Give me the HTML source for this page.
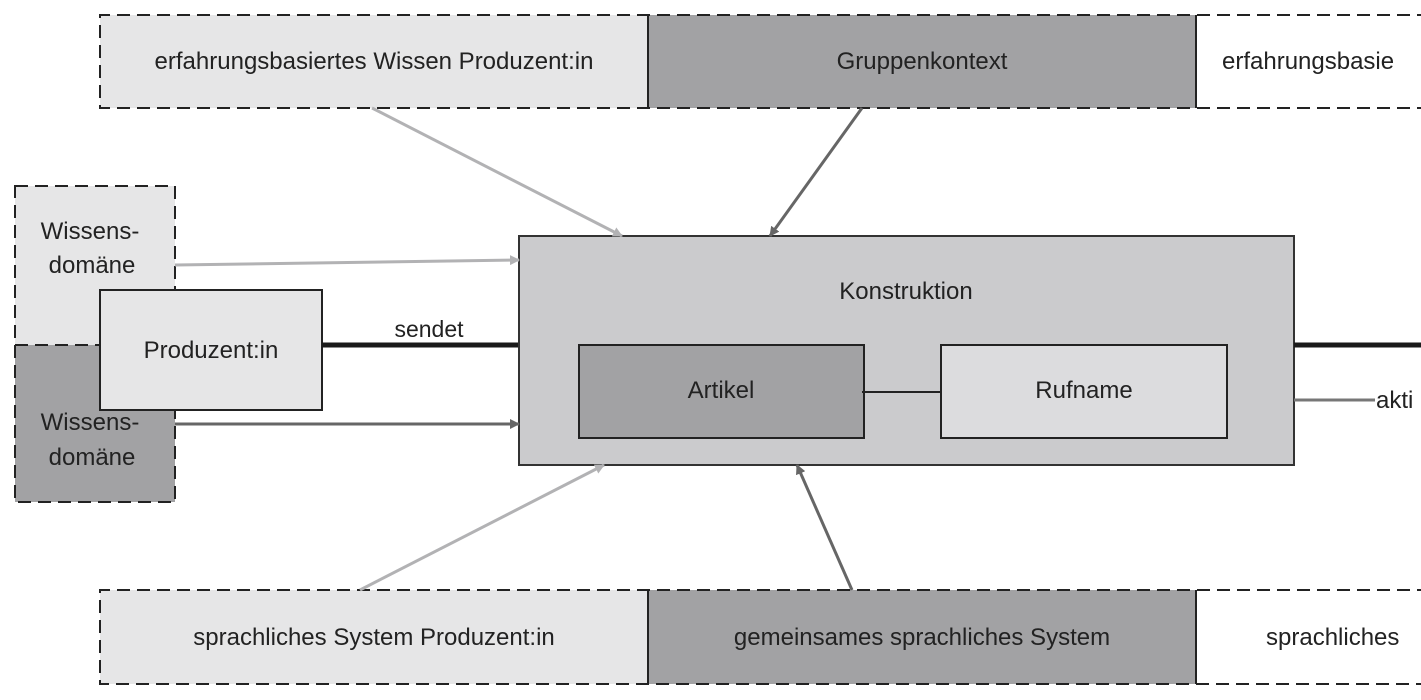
<!DOCTYPE html>
<html><head><meta charset="utf-8"><style>
html,body{margin:0;padding:0;background:#fff;}
svg{display:block;}
text{font-family:"Liberation Sans",sans-serif;fill:#222;}
</style></head><body>
<svg width="1421" height="700" viewBox="0 0 1421 700" xmlns="http://www.w3.org/2000/svg">
<defs>
<marker id="al" markerWidth="10" markerHeight="10" refX="9" refY="5" orient="auto" markerUnits="userSpaceOnUse" viewBox="0 0 10 10"><path d="M0,0 L10,5 L0,10 z" fill="#b2b2b4"/></marker>
<marker id="ad" markerWidth="10" markerHeight="10" refX="9" refY="5" orient="auto" markerUnits="userSpaceOnUse" viewBox="0 0 10 10"><path d="M0,0 L10,5 L0,10 z" fill="#666"/></marker>
</defs>
<!-- top band -->
<rect x="100" y="15" width="548" height="93" fill="#e6e6e7"/>
<rect x="648" y="15" width="548" height="93" fill="#a2a2a4"/>
<line x1="648" y1="15" x2="648" y2="108" stroke="#222" stroke-width="2"/>
<line x1="1196" y1="15" x2="1196" y2="108" stroke="#222" stroke-width="2"/>
<path d="M1430,15 H100 V108 H1430" fill="none" stroke="#222" stroke-width="2" stroke-dasharray="13,7"/>
<text x="374" y="69" font-size="24" text-anchor="middle">erfahrungsbasiertes Wissen Produzent:in</text>
<text x="922" y="69" font-size="24" text-anchor="middle">Gruppenkontext</text>
<text x="1222" y="69" font-size="24">erfahrungsbasie</text>
<!-- bottom band -->
<rect x="100" y="590" width="548" height="94" fill="#e6e6e7"/>
<rect x="648" y="590" width="548" height="94" fill="#a2a2a4"/>
<line x1="648" y1="590" x2="648" y2="684" stroke="#222" stroke-width="2"/>
<line x1="1196" y1="590" x2="1196" y2="684" stroke="#222" stroke-width="2"/>
<path d="M1430,590 H100 V684 H1430" fill="none" stroke="#222" stroke-width="2" stroke-dasharray="13,7"/>
<text x="374" y="645" font-size="24" text-anchor="middle">sprachliches System Produzent:in</text>
<text x="922" y="645" font-size="24" text-anchor="middle">gemeinsames sprachliches System</text>
<text x="1266" y="645" font-size="24">sprachliches</text>
<!-- left domains -->
<rect x="15" y="186" width="160" height="159" fill="#e6e6e7"/>
<rect x="15" y="345" width="160" height="157" fill="#a2a2a4"/>
<rect x="15" y="186" width="160" height="316" fill="none" stroke="#222" stroke-width="2" stroke-dasharray="13,7"/>
<line x1="15" y1="345" x2="175" y2="345" stroke="#222" stroke-width="2" stroke-dasharray="13,7"/>
<text x="90" y="239" font-size="24" text-anchor="middle">Wissens-</text>
<text x="92" y="273" font-size="24" text-anchor="middle">domäne</text>
<text x="90" y="430" font-size="24" text-anchor="middle">Wissens-</text>
<text x="92" y="465" font-size="24" text-anchor="middle">domäne</text>
<rect x="100" y="290" width="222" height="120" fill="#e6e6e7" stroke="#222" stroke-width="2"/>
<text x="211" y="358" font-size="24" text-anchor="middle">Produzent:in</text>
<!-- sendet -->
<line x1="322" y1="345" x2="519" y2="345" stroke="#1a1a1a" stroke-width="5"/>
<text x="429" y="337" font-size="23" text-anchor="middle">sendet</text>
<!-- Konstruktion -->
<rect x="519" y="236" width="775" height="229" fill="#cbcbcd" stroke="#333" stroke-width="2"/>
<text x="906" y="299" font-size="24" text-anchor="middle">Konstruktion</text>
<rect x="579" y="345" width="285" height="93" fill="#a2a2a4" stroke="#222" stroke-width="2"/>
<text x="721" y="398" font-size="24" text-anchor="middle">Artikel</text>
<rect x="941" y="345" width="286" height="93" fill="#dcdcde" stroke="#222" stroke-width="2"/>
<text x="1084" y="398" font-size="24" text-anchor="middle">Rufname</text>
<line x1="862" y1="392" x2="941" y2="392" stroke="#222" stroke-width="2"/>
<!-- right -->
<line x1="1294" y1="345" x2="1421" y2="345" stroke="#1a1a1a" stroke-width="5"/>
<line x1="1294" y1="400" x2="1375" y2="400" stroke="#777" stroke-width="3"/>
<text x="1376" y="408" font-size="24">akti</text>
<!-- arrows -->
<line x1="372" y1="108" x2="622" y2="236" stroke="#b2b2b4" stroke-width="3" marker-end="url(#al)"/>
<line x1="862" y1="108" x2="770" y2="236" stroke="#666" stroke-width="3" marker-end="url(#ad)"/>
<line x1="175" y1="265" x2="519" y2="260" stroke="#b2b2b4" stroke-width="3" marker-end="url(#al)"/>
<line x1="175" y1="424" x2="519" y2="424" stroke="#666" stroke-width="3" marker-end="url(#ad)"/>
<line x1="360" y1="590" x2="604" y2="465" stroke="#b2b2b4" stroke-width="3" marker-end="url(#al)"/>
<line x1="852" y1="590" x2="797" y2="465" stroke="#666" stroke-width="3" marker-end="url(#ad)"/>
</svg>
</body></html>
